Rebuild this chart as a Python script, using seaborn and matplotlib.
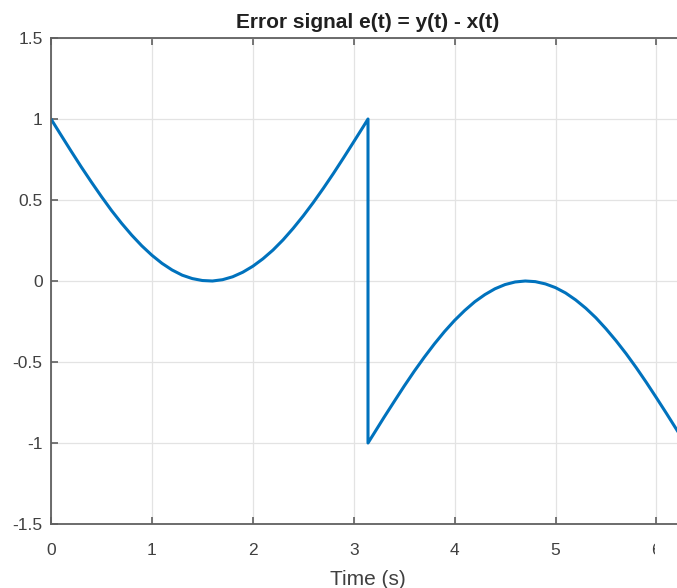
import pandas as pd
import matplotlib
matplotlib.use("Agg")
import matplotlib.pyplot as plt
import seaborn as sns
from matplotlib.transforms import Bbox

# time samples (s), the jump at t = pi appears twice
t = [0.0, 0.1, 0.2, 0.3, 0.4, 0.5, 0.6, 0.7, 0.8, 0.9, 1.0, 1.1, 1.2, 1.3, 1.4,
     1.5, 1.6, 1.7, 1.8, 1.9, 2.0, 2.1, 2.2, 2.3, 2.4, 2.5, 2.6, 2.7, 2.8, 2.9,
     3.0, 3.1, 3.1416,
     3.1416, 3.2, 3.3, 3.4, 3.5, 3.6, 3.7, 3.8, 3.9, 4.0, 4.1, 4.2, 4.3, 4.4,
     4.5, 4.6, 4.7, 4.8, 4.9, 5.0, 5.1, 5.2, 5.3, 5.4, 5.5, 5.6, 5.7, 5.8, 5.9,
     6.0, 6.1, 6.2, 6.2832]

# error signal e(t) = y(t) - x(t)
e = [1.000, 0.900, 0.801, 0.704, 0.611, 0.521, 0.435, 0.356, 0.283, 0.217,
     0.159, 0.109, 0.068, 0.036, 0.015, 0.003, 0.000, 0.008, 0.026, 0.054,
     0.091, 0.137, 0.191, 0.254, 0.325, 0.402, 0.485, 0.573, 0.665, 0.761,
     0.859, 0.958, 1.000,
     -1.000, -0.942, -0.842, -0.745, -0.649, -0.557, -0.470, -0.388, -0.312,
     -0.243, -0.182, -0.128, -0.084, -0.048, -0.022, -0.006, 0.000, -0.004,
     -0.018, -0.041, -0.074, -0.117, -0.168, -0.227, -0.295, -0.369, -0.449,
     -0.535, -0.626, -0.721, -0.818, -0.917, -1.000]

x_ticks = [0, 1, 2, 3, 4, 5, 6]
y_ticks = [-1.5, -1, -0.5, 0, 0.5, 1, 1.5]
y_tick_labels = ["-1.5", "-1", "-0.5", "0", "0.5", "1", "1.5"]

df = pd.DataFrame({"t": t, "e": e})

sns.set_theme(style="whitegrid")
plt.rcParams["font.family"] = ["Liberation Sans", "DejaVu Sans"]

fig = plt.figure(figsize=(6.77, 5.88), dpi=100)
# the reference is cropped on the right, so the axes run past the figure edge
ax = fig.add_axes([51 / 677, 64 / 588, 634 / 677, 486 / 588])

sns.lineplot(data=df, x="t", y="e", sort=False, estimator=None,
             color="#0072BD", linewidth=2.2, ax=ax)

ax.set_xlim(0, 6.2832)
ax.set_ylim(-1.5, 1.5)
ax.set_xticks(x_ticks)
ax.set_yticks(y_ticks)
ax.set_yticklabels(y_tick_labels)

ax.grid(True, color="#e3e3e3", linewidth=0.9)
for side in ["left", "bottom", "top", "right"]:
    ax.spines[side].set_visible(True)
    ax.spines[side].set_color("#606060")
    ax.spines[side].set_linewidth(1.3)

ax.tick_params(direction="in", length=5, width=1.2, color="#606060",
               labelcolor="#404040", labelsize=12.5, top=True, right=True,
               left=True, bottom=True)
ax.tick_params(axis="x", pad=14)
ax.tick_params(axis="y", pad=6)

ax.set_title("Error signal e(t) = y(t) - x(t)", fontsize=15,
             fontweight="bold", color="#202020", pad=7)
ax.set_xlabel("Time (s)", fontsize=15, color="#404040", labelpad=8)
ax.set_ylabel("")

# the last tick label is cut off in the reference
fig.canvas.draw()
for lab in ax.get_xticklabels():
    if lab.get_text() == "6":
        lab.set_clip_box(Bbox.from_extents(0, 0, 655, 588))
        lab.set_clip_on(True)

fig.savefig("out.png", dpi=100)
